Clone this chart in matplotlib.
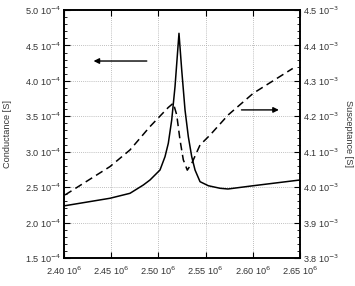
import matplotlib.pyplot as plt
from matplotlib.ticker import FixedLocator, AutoMinorLocator

plt.rcParams['font.family'] = ['Liberation Sans', 'DejaVu Sans']

# frequency [MHz-ish, in 1e6 Hz] and conductance [1e-4 S] (left axis)
freq_g = [2.4011, 2.4487, 2.4699, 2.4840, 2.4911, 2.5017, 2.5070, 2.5105,
          2.5141, 2.5176, 2.5218, 2.5247, 2.5282, 2.5317, 2.5353, 2.5388,
          2.5441, 2.5529, 2.5653, 2.5737, 2.6005, 2.65]
conductance = [2.238, 2.343, 2.413, 2.530, 2.601, 2.742, 2.930, 3.119,
               3.448, 3.918, 4.671, 4.153, 3.589, 3.212, 2.930, 2.742,
               2.577, 2.520, 2.484, 2.474, 2.520, 2.601]

# frequency [1e6 Hz] and susceptance [1e-3 S] (right axis)
freq_b = [2.4011, 2.4487, 2.4699, 2.4911, 2.5105, 2.5158, 2.5194, 2.5229,
          2.5264, 2.5306, 2.5353, 2.5441, 2.5547, 2.5740, 2.6005, 2.6423]
susceptance = [3.978, 4.058, 4.105, 4.171, 4.225, 4.237, 4.204, 4.133,
               4.077, 4.048, 4.067, 4.119, 4.147, 4.204, 4.265, 4.335]

x_ticks = [2.40, 2.45, 2.50, 2.55, 2.60, 2.65]
g_ticks = [1.5, 2.0, 2.5, 3.0, 3.5, 4.0, 4.5, 5.0]
b_ticks = [3.8, 3.9, 4.0, 4.1, 4.2, 4.3, 4.4, 4.5]

x_labels = ["%.2f 10$^{6}$" % v for v in x_ticks]
g_labels = ["%.1f 10$^{-4}$" % v for v in g_ticks]
b_labels = ["%.1f 10$^{-3}$" % v for v in b_ticks]

txt = "#333333"
fs = 6.6

fig = plt.figure(figsize=(3.55, 2.86), dpi=100)
ax = fig.add_axes([64 / 355, 28 / 286, 236 / 355, 248 / 286])
ax2 = ax.twinx()

ax.plot([f * 1e6 for f in freq_g], [g * 1e-4 for g in conductance],
        color="black", lw=1.1)
ax2.plot([f * 1e6 for f in freq_b], [b * 1e-3 for b in susceptance],
         color="black", lw=1.1, dashes=(5, 3))

ax.set_xlim(2.40e6, 2.65e6)
ax.set_ylim(1.5e-4, 5.0e-4)
ax2.set_ylim(3.8e-3, 4.5e-3)

ax.xaxis.set_major_locator(FixedLocator([v * 1e6 for v in x_ticks]))
ax.set_xticklabels(x_labels)
ax.yaxis.set_major_locator(FixedLocator([v * 1e-4 for v in g_ticks]))
ax.set_yticklabels(g_labels)
ax2.yaxis.set_major_locator(FixedLocator([v * 1e-3 for v in b_ticks]))
ax2.set_yticklabels(b_labels)
ax.yaxis.set_minor_locator(AutoMinorLocator(5))
ax2.yaxis.set_minor_locator(AutoMinorLocator(5))

ax.grid(True, color="#aaaaaa", ls=(0, (1, 1.5)), lw=0.6)

ax.tick_params(axis="x", which="both", direction="in", top=True, length=4,
               width=0.8, labelsize=fs, labelcolor=txt, pad=5)
ax.tick_params(axis="y", which="major", direction="in", length=4, width=0.8,
               labelsize=fs, labelcolor=txt, pad=2)
ax.tick_params(axis="y", which="minor", direction="in", length=2, width=0.6)
ax2.tick_params(axis="y", which="major", direction="in", length=4, width=0.8,
                labelsize=fs, labelcolor=txt, pad=2)
ax2.tick_params(axis="y", which="minor", direction="in", length=2, width=0.6)

for a in (ax, ax2):
    for s in a.spines.values():
        s.set_linewidth(1.2)

ax.set_ylabel("Conductance [S]", fontsize=fs, color=txt, labelpad=9)
ax2.set_ylabel("Susceptance [S]", fontsize=fs, color=txt, rotation=270, labelpad=10)

ax.annotate("", xy=(2.4313e6, 4.28e-4), xytext=(2.4877e6, 4.28e-4),
            arrowprops=dict(arrowstyle="-|>", color="black", lw=1.0,
                            mutation_scale=8, shrinkA=0, shrinkB=0))
ax.annotate("", xy=(2.6276e6, 3.59e-4), xytext=(2.588e6, 3.59e-4),
            arrowprops=dict(arrowstyle="-|>", color="black", lw=1.0,
                            mutation_scale=8, shrinkA=0, shrinkB=0))

fig.savefig("out.png", dpi=100)
